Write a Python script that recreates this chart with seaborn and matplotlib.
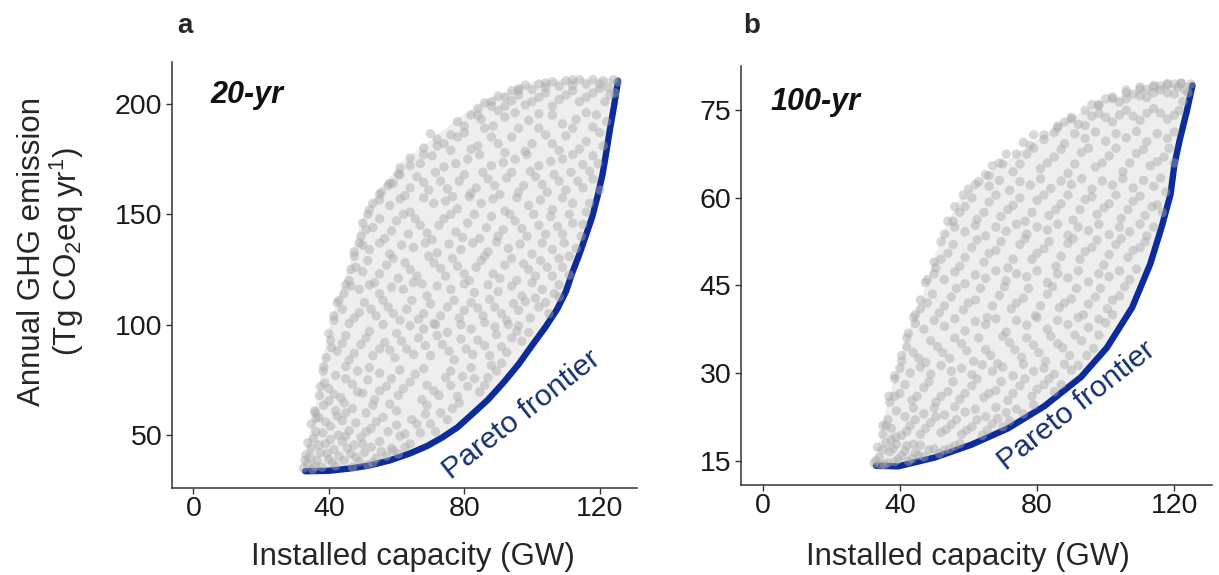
import matplotlib
matplotlib.use("Agg")
import matplotlib.pyplot as plt
import seaborn as sns
import pandas as pd

# ---- panel a (20-yr) ----
upper_a_x = [32, 32.4, 33.2, 34.6, 36.2, 38.6, 41, 45.8, 49.5, 54.3, 61.5, 70, 79.6, 88, 100, 112, 125.4]
upper_a_y = [33.6, 37, 42.5, 53, 64, 87, 104, 125.5, 147, 160, 173.5, 183.5, 195, 203, 210, 211.7, 211.5]
pareto_a_x = [33, 40, 46, 52, 58, 64, 69, 73.6, 78, 82, 87, 91.7, 96, 100, 104, 107.4, 110, 112, 114, 115.8,
              117.8, 119.4, 120.8, 121.8, 123, 124.2, 125.4]
pareto_a_y = [33.6, 33.8, 34.8, 36.2, 38.5, 41.7, 45, 49, 53.5, 59, 66, 74, 82, 90.6, 99, 107, 115, 124, 132, 140,
              149, 158.6, 168, 177, 188.5, 199, 210.5]
cloud_a = [
    (32.5, 35), (33.8, 37), (35.2, 34.5), (36.5, 38.5), (38, 35.5), (33.2, 41), (34.8, 44), (37.5, 42), (40, 39),
    (42, 36), (44.5, 38.5), (47, 35.5), (39, 46), (41.5, 43.5), (44, 47), (46.5, 41.5), (49, 38), (51.5, 36.5),
    (35.5, 48.5), (38.2, 51), (42.8, 50), (47.5, 45.5), (50.5, 42), (54, 39.5), (57, 40.5),
    (34.8, 55), (37, 58), (40.5, 54), (44, 56.5), (46, 52), (49.5, 49), (52.5, 53), (55, 47), (58.5, 44),
    (61, 49.5), (64, 46), (67, 51), (70, 55), (56, 58), (60, 61), (64.5, 57), (73, 60), (76.5, 62), (51, 60),
    (47, 62), (42, 61), (38.5, 63.5), (35.8, 61),
    (37.2, 68), (40, 71), (43.5, 67), (47, 73), (50, 69), (53.5, 66), (57, 72), (60.5, 68), (64, 74),
    (67.5, 66), (71, 70), (74.5, 76), (78, 67.5), (81, 72), (84.5, 69.5), (87, 76), (89.5, 79), (55, 78),
    (48.5, 79), (42, 77), (38.3, 79), (61, 79.5), (68, 80), (76, 79),
    (39.2, 85), (42.5, 88), (46, 84), (49.5, 91), (53, 86), (56.5, 92), (59.5, 85), (63, 89), (66.5, 94),
    (70, 86), (73.5, 91), (77, 84), (80.5, 89), (84, 93), (87.5, 86), (91, 90), (94, 94), (97, 92.5),
    (40.5, 93), (45, 95), (52, 97), (60, 96), (68, 98), (75, 96.5), (82, 98), (89, 99), (96, 99.5),
    (41.5, 102), (44, 107), (47.5, 103), (50.5, 110), (54, 104), (57.5, 108), (61, 102), (64.5, 111),
    (68, 105), (71.5, 100), (75, 108), (78.5, 103), (82, 110), (85.5, 104), (89, 108), (92.5, 102),
    (96, 106.5), (99.5, 103), (102, 108), (104, 110), (44.5, 114), (49, 116), (55, 114), (62, 116),
    (69, 113), (76, 116), (83, 114.5), (90, 115), (97, 113), (103, 116), (106.5, 114),
    (46, 120), (50, 124), (53.5, 119), (57, 127), (60.5, 121), (64, 125), (67.5, 118.5), (71, 128),
    (74.5, 122), (78, 126.5), (81.5, 120), (85, 129), (88.5, 123), (92, 127), (95.5, 120), (99, 125),
    (102.5, 129), (106, 122), (109, 126), (47.5, 131), (52, 134), (58, 132), (65, 135), (72, 132.5),
    (79, 134), (86, 131), (93, 134.5), (100, 132), (106, 134), (111, 131),
    (49.5, 140), (53, 144), (56.5, 139), (60, 147), (63.5, 141), (67, 145), (70.5, 138.5), (74, 148),
    (77.5, 142), (81, 146), (84.5, 139), (88, 149), (91.5, 143), (95, 147), (98.5, 140), (102, 145),
    (105.5, 149), (109, 141), (112, 146), (114.5, 140), (52, 152), (58, 154), (64, 151), (71, 155),
    (78, 152.5), (85, 155), (92, 151.5), (99, 154), (106, 152), (112, 155), (116, 151),
    (55.5, 160), (59, 164), (62.5, 158.5), (66, 167), (69.5, 161), (73, 165), (76.5, 158), (80, 168),
    (83.5, 162), (87, 166), (90.5, 159), (94, 169), (97.5, 163), (101, 167), (104.5, 160), (108, 165),
    (111.5, 169), (115, 162), (118, 166), (61, 171), (67, 173), (74, 171.5), (81, 175), (88, 172),
    (95, 175), (102, 172), (109, 175), (115, 172.5), (119.5, 173),
    (68, 180), (72, 184), (76, 179), (80, 187), (84, 181), (88, 185), (92, 178), (96, 189), (100, 182),
    (104, 186), (108, 179), (112, 189), (116, 183), (120, 187), (78, 192), (85, 193), (92, 194),
    (99, 192.5), (106, 195), (113, 193), (119, 195),
    (84, 198), (88, 201), (92, 199), (96, 204), (100, 201), (104, 205), (108, 202), (112, 206), (116, 203),
    (120, 207), (123, 204), (94, 206), (98, 208.5), (102, 209), (106, 210), (110, 210.5), (114, 211),
    (118, 211), (121, 210.5), (124, 211), (125.2, 210), (108, 208), (116, 209),
]
cloud_a_more = [
    (33, 38.5), (34.5, 40), (36, 36), (37, 45.5), (39.5, 41.5), (41, 37.5), (43, 40.5), (45.5, 44), (48, 40),
    (50, 46), (52.5, 44.5), (55.5, 42.5), (59, 43), (33.8, 46.5), (36.2, 51.5), (40.5, 48), (45, 49.5),
    (53, 37.5), (60.5, 41.5), (62.5, 44.5),
    (36.2, 57.5), (39, 56), (42.5, 58.5), (45, 60), (48, 55.5), (51, 51.5), (54, 56), (57.5, 51.5), (60, 54.5),
    (62.5, 50.5), (66, 55), (68.5, 59.5), (71.5, 51.5), (75, 57), (78.5, 64.5), (58, 64), (53, 63.5),
    (44.5, 64.5), (40, 65.5), (69, 63.5),
    (38.8, 73.5), (41.5, 68.5), (45, 75.5), (48.5, 69.5), (51.5, 75), (55, 70), (58.5, 75.5), (62, 71),
    (65.5, 77.5), (69, 72.5), (72.5, 68), (76, 72.5), (79.5, 76.5), (83, 75.5), (86, 72.5), (88, 81.5),
    (91, 82.5), (82, 80.5), (52, 80.5), (45, 81),
    (40.8, 89.5), (44, 91.5), (47.5, 87), (51, 94), (55, 89), (58, 88.5), (61.5, 92.5), (65, 86.5),
    (68.5, 90.5), (72, 95), (75.5, 88), (79, 93.5), (82.5, 86.5), (86, 90.5), (89.5, 95.5), (92.5, 87.5),
    (95.5, 97), (99, 96.5), (56, 100), (64, 99.5), (71, 100.5), (79, 100), (86, 101), (93, 100),
    (42.5, 110), (46, 100.5), (49, 105.5), (52.5, 107), (56, 111), (59, 105), (63, 107), (66.5, 102.5),
    (70, 109.5), (73, 104), (77, 111), (80, 106.5), (84, 107.5), (87.5, 111.5), (91, 105), (94.5, 109.5),
    (98, 110.5), (101, 112), (105, 105), (108, 112.5), (46.5, 117.5), (52, 118), (58.5, 117), (65, 119),
    (72, 117.5), (80, 118.5), (87, 118), (94, 117.5), (100, 119), (108, 118),
    (48, 126), (51.5, 129), (55, 123), (59, 130), (62.5, 128), (66, 122), (69.5, 131), (73, 125.5),
    (76.5, 130), (80, 123), (83.5, 126), (87, 133), (90.5, 121), (94, 130), (97.5, 127.5), (101, 122),
    (104.5, 126), (108, 130), (111, 122.5), (113, 134.5), (50, 136), (55, 137), (61.5, 136), (68.5, 137),
    (75.5, 136.5), (82.5, 137), (89.5, 137.5), (96.5, 136.5), (103, 137), (109.5, 137),
    (51, 143), (55, 148), (58.5, 142.5), (62, 150), (65.5, 148), (69, 141.5), (72.5, 145), (76, 150),
    (79.5, 139.5), (83, 150), (86.5, 144), (90, 140), (93.5, 150), (97, 143.5), (100.5, 150), (104, 141),
    (107.5, 144.5), (111, 150), (115, 145.5), (117, 155), (55, 156.5), (61, 157), (68, 157.5), (74.5, 156),
    (81.5, 158), (88.5, 157), (95.5, 157.5), (102.5, 156.5), (109, 157.5),
    (57.5, 163), (60.5, 168), (64, 162), (68, 164.5), (71.5, 169), (75, 161.5), (78.5, 165), (82, 159.5),
    (85.5, 169), (89, 163), (92.5, 166.5), (96, 160), (99.5, 169.5), (103, 163.5), (106.5, 168), (110, 161),
    (113.5, 165), (117, 169.5), (120, 161), (64, 175.5), (70.5, 176.5), (77.5, 173), (84.5, 177),
    (91.5, 173.5), (98.5, 177), (105.5, 174), (112, 177), (118, 176.5),
    (70, 186.5), (74, 182), (78, 185), (82, 179.5), (86, 189), (90, 182), (94, 185), (98, 178.5), (102, 189),
    (106, 182), (110, 185.5), (114, 179.5), (118, 189.5), (121, 181), (82, 195), (88.5, 190), (95, 196),
    (102, 195.5), (109, 191), (116, 196), (122, 192),
    (86, 200.5), (90, 197), (94, 201.5), (98, 199.5), (102, 203), (106, 199), (110, 204), (114, 201),
    (118, 205), (121.5, 201), (100, 206.5), (104, 207.5), (112, 208.5), (120, 209), (122.5, 207.5),
    (124.5, 205), (96, 207), (90, 203.5),
]
# points crowding the upper-left edge of the cloud
edge_a = [
    (36, 60), (37.5, 72), (38.5, 81), (40, 96), (41.5, 104), (43, 111), (45, 118), (46.5, 125), (47.5, 133),
    (49, 137), (50, 146), (51.5, 150), (53, 155), (55, 159), (58, 164), (61, 168), (64, 172), (68, 177),
    (72, 181), (76, 186), (80, 190), (84, 195), (88, 199), (92, 203), (96, 206), (104, 209.5), (112, 211),
]

# ---- panel b (100-yr) ----
upper_b_x = [32, 33, 34.1, 36.3, 39.5, 42.7, 46.9, 50.1, 53.3, 57.6, 66.1, 76.8, 87.5, 98, 108.8, 122.7, 125.3]
upper_b_y = [14.2, 16.5, 18.6, 24.9, 31.2, 37.4, 43.7, 49.9, 55, 60, 64.3, 68.7, 73, 76.2, 78.4, 79.7, 79.8]
pareto_b_x = [33, 39.5, 50.1, 60.8, 71.5, 82.1, 92.8, 100.3, 107.7, 113, 116.3, 118.9, 120, 121.6, 123.7, 125.3]
pareto_b_y = [14.1, 14, 15.5, 17.7, 20.5, 24.3, 29.3, 34.3, 41.2, 48.7, 55, 60.6, 65.6, 70, 75, 79.3]
cloud_b = [
    (32.5, 14.5), (34, 15.5), (35.5, 14.3), (37, 16.5), (38.5, 14.8), (40.5, 15.8), (42.5, 14.9), (44.5, 16.3),
    (47, 15.6), (33.5, 17.3), (36, 18), (39, 17.8), (42, 17.5), (46, 17.6), (50, 17), (53, 16.8), (56, 17.5),
    (35, 19.5), (37.5, 20.5), (40.5, 19.3), (43, 21), (46, 19.5), (49, 21.5), (52, 19.8), (55, 21.2),
    (58, 19.5), (61, 20.8), (64, 19.3), (67, 21.3), (70, 20.8), (36.5, 22), (41.5, 22.5), (47, 23),
    (53, 22.8), (59, 23.3), (65, 22.5), (71, 23.2), (76, 23),
    (37, 25), (40, 26.5), (43.5, 25.3), (47, 27.5), (50.5, 25), (54, 26.8), (57.5, 25.5), (61, 27.8),
    (64.5, 25.8), (68, 27), (71.5, 25.3), (75, 27.8), (78.5, 26), (82, 28), (85, 26.8), (38.5, 29.5),
    (43, 30), (49, 29.8), (55, 30.3), (61, 29.7), (67, 30.3), (73, 29.5), (79, 30.3), (85, 29.8), (90, 30.5),
    (40.5, 32), (44, 33.5), (47.5, 31.8), (51, 34.5), (54.5, 32.5), (58, 35), (61.5, 32), (65, 34),
    (68.5, 31.6), (72, 35.2), (75.5, 32.7), (79, 34.8), (82.5, 32), (86, 35), (89.5, 33), (93, 35.5),
    (96.5, 34.2), (42.5, 36.8), (47, 37.5), (53, 38), (59, 37.2), (65, 38.3), (71, 37), (77, 38.2),
    (83, 37.5), (89, 38.3), (95, 37.8), (100, 38.6),
    (44.5, 40), (48, 42), (51.5, 40.3), (55, 43), (58.5, 40.8), (62, 42.5), (65.5, 39.5), (69, 43.3),
    (72.5, 41), (76, 42.8), (79.5, 39.8), (83, 43.5), (86.5, 41.2), (90, 42.7), (93.5, 40), (97, 43),
    (100.5, 41), (104, 43.2), (47.5, 45.5), (53, 46), (59, 45.3), (65, 46.2), (71, 45.8), (77, 46.5),
    (83, 45.5), (89, 46.3), (95, 45.6), (101, 46.5), (107, 46),
    (50.5, 48), (54, 50.5), (57.5, 48.3), (61, 51.5), (64.5, 49), (68, 51), (71.5, 48), (75, 52),
    (78.5, 49.5), (82, 51.3), (85.5, 48.3), (89, 52.2), (92.5, 49.5), (96, 51.5), (99.5, 48.5), (103, 52),
    (106.5, 49.8), (110, 51.5), (53, 53.8), (59, 54.2), (65, 53.5), (71, 54.3), (77, 53.8), (83, 54.5),
    (89, 53.6), (95, 54.4), (101, 53.7), (107, 54.2), (112, 53.5),
    (55.5, 56), (59, 58.5), (62.5, 56.3), (66, 59.3), (69.5, 56.8), (73, 58.7), (76.5, 56), (80, 59.6),
    (83.5, 57), (87, 59), (90.5, 56.2), (94, 59.7), (97.5, 57.2), (101, 59), (104.5, 56.5), (108, 59.4),
    (111.5, 57), (115, 58.8), (60, 61.5), (66, 62), (72, 61.3), (78, 62.2), (84, 61.6), (90, 62.3),
    (96, 61.5), (102, 62.2), (108, 61.7), (114, 62), (117.5, 61),
    (65, 64), (69, 66), (73, 64.5), (77, 67.5), (81, 65), (85, 67), (89, 64.2), (93, 67.8), (97, 65.3),
    (101, 67.2), (105, 64.5), (109, 67.6), (113, 65.5), (117, 67), (120, 66), (76, 69.5), (82, 70),
    (88, 69.3), (94, 70.2), (100, 69.7), (106, 70.3), (112, 69.6), (118, 70.2),
    (86, 72), (90, 73.5), (94, 72.4), (98, 74.5), (102, 73), (106, 75), (110, 73.3), (114, 75.3),
    (118, 73.5), (121.5, 75), (96, 76), (100, 77), (104, 76.4), (108, 77.8), (112, 77.2), (116, 78.5),
    (120, 77.8), (123, 78.5), (110, 79), (114, 79.3), (118, 79.6), (122, 79.7), (124.8, 79.5),
]
cloud_b_more = [
    (33, 15), (35, 16.8), (36.5, 14.6), (38, 17), (39.5, 15.2), (41.5, 16.6), (43.5, 15.3), (45.5, 15.9),
    (48.5, 16.8), (51.5, 16.2), (54.5, 17), (57.5, 17.9), (34.5, 14.2), (44, 17.8), (37.5, 18.6),
    (36, 21), (38.8, 19), (42, 20), (44.5, 22), (47.5, 20.5), (50.5, 22.5), (53.5, 20.3), (56.5, 22),
    (59.5, 20.2), (62.5, 22), (65.5, 20.2), (68.5, 22.2), (72, 21.8), (74, 23.8), (39, 23.5), (44, 24),
    (50, 24), (56, 24.2), (62, 23.8), (68, 24.1), (79, 24.5),
    (38.5, 26), (41.5, 28), (45, 26), (48.5, 28.5), (52, 26), (55.5, 28.5), (59, 26.5), (62.5, 29),
    (66, 26.5), (69.5, 28.5), (73, 26.5), (76.5, 29), (80, 27.2), (83.5, 29), (87, 28), (40, 30.8),
    (46, 31), (52, 31.3), (58, 30.8), (64, 31.4), (70, 31), (76, 31.5), (82, 30.8), (88, 31.5), (92, 31.3),
    (42, 34.5), (45.5, 32.5), (49, 35.5), (52.5, 33.5), (56, 36), (59.5, 33.8), (63, 36), (66.5, 33),
    (70, 36.3), (73.5, 34), (77, 36), (80.5, 33.5), (84, 36.3), (87.5, 34.3), (91, 36.5), (94.5, 33),
    (98, 36.5), (44.5, 38.5), (50, 39), (56, 39.3), (62, 38.8), (68, 39.3), (74, 39), (80, 39.5), (86, 39),
    (92, 39.5), (98, 39.2), (102, 40),
    (46, 41), (49.5, 43.5), (53, 41.5), (56.5, 44.5), (60, 42), (63.5, 44.5), (67, 41.5), (70.5, 44.8),
    (74, 42), (77.5, 44.5), (81, 41.5), (84.5, 44.8), (88, 42), (91.5, 44.5), (95, 41.8), (98.5, 44.5),
    (102, 42.5), (105.5, 44.8), (50, 47), (56, 47.3), (62, 46.8), (68, 47.5), (74, 47), (80, 47.5),
    (86, 47), (92, 47.5), (98, 47), (104, 47.5), (109, 47.8),
    (52, 49.5), (55.5, 52), (59, 49.8), (62.5, 52.8), (66, 50.5), (69.5, 52.5), (73, 49.5), (76.5, 53),
    (80, 50.5), (83.5, 52.5), (87, 50), (90.5, 53), (94, 50.8), (97.5, 52.8), (101, 50.3), (104.5, 53),
    (108, 51), (111.5, 52.5), (56, 55), (62, 55.3), (68, 55), (74, 55.5), (80, 55), (86, 55.5), (92, 55),
    (98, 55.5), (104, 55), (110, 55.5), (114, 55),
    (57.5, 57.5), (61, 60), (64.5, 57.5), (68, 60.5), (71.5, 58), (75, 60), (78.5, 57.5), (82, 60.5),
    (85.5, 58), (89, 60.5), (92.5, 58), (96, 60.2), (99.5, 58.3), (103, 60.5), (106.5, 58), (110, 60.3),
    (113.5, 58.5), (116.5, 57.5), (63, 62.8), (69, 63), (75, 62.8), (81, 63.3), (87, 62.9), (93, 63.3),
    (99, 62.9), (105, 63.3), (111, 63), (116, 63.4),
    (67, 65.5), (71, 67.5), (75, 65.8), (79, 68.5), (83, 66), (87, 68.3), (91, 65.8), (95, 68.5), (99, 66),
    (103, 68.5), (107, 66), (111, 68.3), (115, 66.2), (118.5, 68.5), (79, 70.8), (85, 71.2), (91, 71),
    (97, 71.3), (103, 71), (109, 71.4), (115, 71), (120, 71.3),
    (88, 73), (92, 72.6), (96, 74), (100, 73.8), (104, 74.2), (108, 74), (112, 74.5), (116, 74.5),
    (120, 74.2), (122.5, 76.5), (98, 75.8), (102, 77.3), (106, 77), (110, 77.5), (114, 78), (118, 78),
    (121, 79), (124, 78), (106, 78.5), (112, 78.6), (116, 79.2), (120, 79.5),
]
edge_b = [
    (35, 21), (36.8, 26), (38.5, 29), (40.5, 33), (42, 36), (44, 39.5), (46, 42.5), (48, 46), (50, 49),
    (52, 52.5), (54, 56), (56, 58.5), (58.5, 60.5), (62, 62.3), (66, 63.8), (70, 65.8), (74, 67.5), (78, 69),
    (82, 70.8), (86, 72.3), (90, 73.8), (94, 75), (98, 76), (102, 77), (106, 78), (110, 78.6), (114, 79),
    (118, 79.4), (122, 79.6),
]

xticks = [0, 40, 80, 120]
yticks_a = [50, 100, 150, 200]
yticks_b = [15, 30, 45, 60, 75]

sns.set_theme(style="ticks")
plt.rcParams["font.family"] = ["Liberation Sans", "DejaVu Sans"]
plt.rcParams["mathtext.fontset"] = "custom"
plt.rcParams["mathtext.rm"] = "Liberation Sans"
plt.rcParams["mathtext.it"] = "Liberation Sans:italic"
tick_fs, label_fs, note_fs = 20.5, 22.5, 21.8

grey = "#a9a9a9"
blue = "#0d2b9b"
navy = "#15306e"
dark = "#333333"


def draw_panel(ax, up_x, up_y, par_x, par_y, cloud, ylim, yticks, tag, tag_xy, note_xy):
    poly = pd.DataFrame({"x": up_x + par_x[::-1], "y": up_y + par_y[::-1]})
    ax.fill(poly["x"], poly["y"], color="#eeeeee", lw=0, zorder=1)
    par = pd.DataFrame({"x": par_x, "y": par_y})
    sns.lineplot(data=par, x="x", y="y", sort=False, estimator=None, color=blue, lw=4.6,
                 ax=ax, zorder=2)
    cl = pd.DataFrame(cloud, columns=["x", "y"])
    sns.scatterplot(data=cl, x="x", y="y", color=grey, alpha=0.45, s=46, edgecolor="none",
                    ax=ax, zorder=3)
    ax.set_xlim(-6.3, 131)
    ax.set_ylim(*ylim)
    ax.set_xticks(xticks)
    ax.set_yticks(yticks)
    ax.set_xlabel("")
    ax.set_ylabel("")
    sns.despine(ax=ax)
    for s in ["left", "bottom"]:
        ax.spines[s].set_color(dark)
        ax.spines[s].set_linewidth(1.1)
    ax.tick_params(axis="both", labelsize=tick_fs, colors=dark, labelcolor="#1a1a1a",
                   length=4, width=1)
    ax.tick_params(axis="x", pad=2)
    ax.tick_params(axis="y", pad=3)
    ax.text(tag_xy[0], tag_xy[1], tag, fontsize=22, fontweight="bold",
            fontstyle="italic", va="center", ha="left", color="#111111")
    ax.text(note_xy[0], note_xy[1], "Pareto frontier", fontsize=note_fs, color=navy,
            rotation=38, rotation_mode="anchor", ha="center", va="center")


fig = plt.figure(figsize=(12.19, 5.75), dpi=100)
ax_a = fig.add_axes([0.1411, 0.1513, 0.3815, 0.7409])
ax_b = fig.add_axes([0.6079, 0.1565, 0.3864, 0.7287])

draw_panel(ax_a, upper_a_x, upper_a_y, pareto_a_x, pareto_a_y, cloud_a + cloud_a_more + edge_a, (26, 219),
           yticks_a, "20-yr", (5.0, 204), (97, 59))
draw_panel(ax_b, upper_b_x, upper_b_y, pareto_b_x, pareto_b_y, cloud_b + cloud_b_more + edge_b, (10.8, 82.6),
           yticks_b, "100-yr", (2.4, 76.5), (91.5, 24.3))

fig.text(0.152, 0.955, "a", fontsize=20, fontweight="bold", ha="center", va="center")
fig.text(0.617, 0.955, "b", fontsize=20, fontweight="bold", ha="center", va="center")
fig.text(0.026, 0.562, "Annual GHG emission", fontsize=label_fs, rotation=90, ha="center", va="center")
fig.text(0.055, 0.562, "(Tg CO$_2$eq yr$^1$)", fontsize=label_fs, rotation=90, ha="center", va="center")
fig.text(0.339, 0.031, "Installed capacity (GW)", fontsize=label_fs, ha="center", va="center")
fig.text(0.794, 0.031, "Installed capacity (GW)", fontsize=label_fs, ha="center", va="center")

fig.savefig("out.png", dpi=100)
